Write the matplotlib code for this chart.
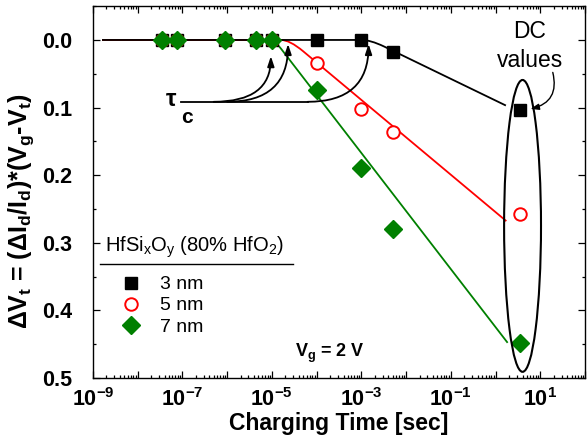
import math
import matplotlib
matplotlib.use("Agg")
import matplotlib.pyplot as plt
from matplotlib.path import Path
from matplotlib.patches import PathPatch, Ellipse
from matplotlib.ticker import FixedLocator, FuncFormatter, LogLocator, MultipleLocator
from matplotlib.lines import Line2D

plt.rcParams['font.family'] = ['Liberation Sans', 'DejaVu Sans']
plt.rcParams['mathtext.fontset'] = 'custom'
plt.rcParams['mathtext.rm'] = 'Liberation Sans'
plt.rcParams['mathtext.it'] = 'Liberation Sans'
plt.rcParams['mathtext.bf'] = 'Liberation Sans:bold'

# charging times [s]; the last point of every series is the DC value
times = [3.5e-8, 7.5e-8, 9e-7, 4.5e-6, 1e-5, 1e-4, 1e-3, 5e-3, 3.5]
dvt_3nm = [0, 0, 0, 0, 0, 0, 0, 0.018, 0.104]
dvt_5nm = [0, 0, 0, 0, 0, 0.034, 0.102, 0.136, 0.257]
dvt_7nm = [0, 0, 0, 0, 0, 0.074, 0.19, 0.28, 0.448]

# fitted curves: flat, rounded knee at tau_c, then log-linear rise
fit_3nm_t = [1.6e-9, 1.0e-3, 1.6e-3, 3.2e-3, 1.7]
fit_3nm_v = [0, 0, 0, 0.0096, 0.097]
fit_5nm_t = [1.6e-9, 1.6e-5, 2.5e-5, 5e-5, 1.74]
fit_5nm_v = [0, 0, 0, 0.0167, 0.268]
fit_7nm_t = [1.6e-9, 8e-6, 1.12e-5, 1.6e-5, 1.86]
fit_7nm_v = [0, 0, 0, 0.0129, 0.448]

# tau_c arrows: (start on the bar, tip at the knee)
tau_bar_t = [9.5e-8, 6.3e-5]
tau_bar_v = 0.0915
tau_starts = [5e-7, 1e-6, 6.3e-5]
tau_tips = [(9.5e-6, 0.024), (2.3e-5, 0.006), (1.45e-3, 0.006)]

fig = plt.figure(figsize=(5.88, 4.40), dpi=100)
ax = fig.add_axes([0.158, 0.141, 0.837, 0.845])
ax.set_xscale('log')
ax.set_xlim(1e-9, 1e2)
ax.set_ylim(0.5, -0.05)

codes = [Path.MOVETO, Path.LINETO, Path.CURVE3, Path.CURVE3, Path.LINETO]
for t, v, c in [(fit_7nm_t, fit_7nm_v, 'green'), (fit_5nm_t, fit_5nm_v, 'red'),
                (fit_3nm_t, fit_3nm_v, 'black')]:
    p = Path(list(zip(t, v)), codes)
    ax.add_patch(PathPatch(p, fc='none', ec=c, lw=1.3, zorder=2))

ax.plot(times, dvt_3nm, 's', color='black', ms=8.5, ls='none', zorder=3, label='3 nm')
ax.plot(times, dvt_5nm, 'o', mfc='white', mec='red', mew=1.4, ms=9, ls='none', zorder=4, label='5 nm')
ax.plot(times, dvt_7nm, 'D', color='green', ms=9.5, ls='none', zorder=5, label='7 nm')

# tau_c annotation
ax.plot(tau_bar_t, [tau_bar_v, tau_bar_v], color='black', lw=1.3)
for s, tip in zip(tau_starts, tau_tips):
    ax.annotate('', xy=tip, xytext=(s, tau_bar_v),
                arrowprops=dict(arrowstyle='-|>,head_length=0.6,head_width=0.2',
                                connectionstyle='angle3,angleA=0,angleB=90',
                                color='black', lw=1.3, shrinkA=0, shrinkB=0))
ax.text(5.7e-8, 0.088, 'τ', fontsize=17, fontweight='bold', ha='center', va='center')
ax.text(1.26e-7, 0.115, 'c', fontsize=15, fontweight='bold', ha='center', va='center')

# DC values group
ax.add_patch(Ellipse((0.873, 0.409), 0.075, 0.785, transform=ax.transAxes,
                     fc='none', ec='black', lw=1.5, zorder=6))
ax.text(0.888, 0.893, 'DC\nvalues', transform=ax.transAxes, fontsize=16.5,
        ha='center', va='center', linespacing=1.3)
ax.annotate('', xy=(6.0, 0.102), xytext=(19.0, 0.048),
            arrowprops=dict(arrowstyle='-|>,head_length=0.5,head_width=0.18',
                            connectionstyle='arc3,rad=-0.5', color='black', lw=1.0,
                            shrinkA=0, shrinkB=0))

ax.text(2e-4, 0.463, r'V$_\mathbf{g}$ = 2 V', fontsize=13, fontweight='bold',
        ha='center', va='center')

# legend with title and rule
ax.text(0.024, 0.352, r'HfSi$_\mathrm{x}$O$_\mathrm{y}$ (80% HfO$_\mathrm{2}$)',
        transform=ax.transAxes, fontsize=14.5, va='center', ha='left')
ax.add_line(Line2D([0.014, 0.407], [0.306, 0.306], transform=ax.transAxes,
                   color='black', lw=1.0))
ax.legend(loc='upper left', bbox_to_anchor=(0.057, 0.275), frameon=False, fontsize=14,
          handlelength=1.0, handletextpad=1.0, labelspacing=0.18, borderpad=0,
          borderaxespad=0)

# axes and ticks
decades = [10.0 ** k for k in range(-9, 3)]
ax.xaxis.set_major_locator(FixedLocator(decades))
ax.xaxis.set_minor_locator(LogLocator(base=10, subs=range(2, 10), numticks=100))


def decade_label(x, pos):
    k = round(math.log10(x))
    return r'$\mathbf{10^{%d}}$' % k if k % 2 else ''


ax.xaxis.set_major_formatter(FuncFormatter(decade_label))
ax.yaxis.set_major_locator(MultipleLocator(0.1))
ax.yaxis.set_minor_locator(MultipleLocator(0.05))
ax.yaxis.set_major_formatter(FuncFormatter(lambda y, pos: '%.1f' % abs(y)))
ax.tick_params(which='both', direction='in', top=True, right=True, width=0.9)
ax.tick_params(which='major', length=5, labelsize=15.5)
ax.tick_params(which='minor', length=2.5)
ax.tick_params(axis='x', which='major', pad=7)
ax.tick_params(axis='y', which='major', pad=15)
for lab in ax.get_yticklabels():
    lab.set_fontweight('bold')
for sp in ax.spines.values():
    sp.set_linewidth(1.0)

ax.set_xlabel('Charging Time [sec]', fontsize=16.5, fontweight='bold', labelpad=1)
ax.set_ylabel(r'ΔV$_\mathbf{t}$ = (ΔI$_\mathbf{d}$/I$_\mathbf{d}$)*(V$_\mathbf{g}$-V$_\mathbf{t}$)',
              fontsize=18, fontweight='bold')
ax.yaxis.set_label_coords(-0.116, 0.45)

fig.savefig('out.png', dpi=100)
